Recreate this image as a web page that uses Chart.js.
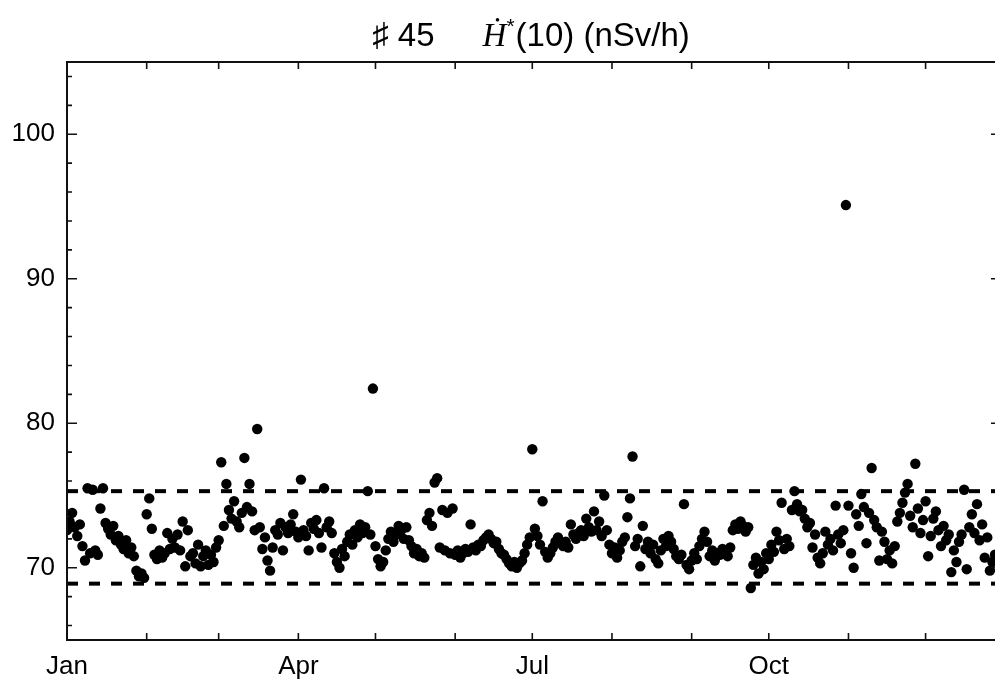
<!DOCTYPE html>
<html>
<head>
<meta charset="utf-8">
<script src="https://cdn.jsdelivr.net/npm/chart.js@4.4.1/dist/chart.umd.min.js"></script>
<style>
html, body { margin: 0; padding: 0; overflow: hidden; background: #fff; }
canvas { display: block; }
</style>
</head>
<body>
<canvas id="doseChart" width="995" height="682"></canvas>
<script>
// daily values, index = day of year (0 = 1 Jan)
const doseRate = [
  72.6, 73.2, 73.8, 72.8, 72.2, 73.0, 71.5, 70.5, 75.5, 71.0,
  75.4, 71.2, 70.9, 74.1, 75.5, 73.1, 72.7, 72.3, 72.9, 71.9,
  72.2, 71.6, 71.3, 71.9, 71.0, 71.4, 70.8, 69.8, 69.4, 69.6,
  69.3, 73.7, 74.8, 72.7, 70.9, 70.6, 71.2, 70.7, 71.0, 72.4,
  71.3, 72.0, 71.4, 72.3, 71.2, 73.2, 70.1, 72.6, 70.8, 71.0,
  70.3, 71.6, 70.1, 70.8, 71.2, 70.2, 70.9, 70.4, 71.4, 71.9,
  77.3, 72.9, 75.8, 74.0, 73.4, 74.6, 73.2, 72.8, 73.8, 77.6,
  74.2, 75.8, 73.9, 72.6, 79.6, 72.8, 71.3, 72.1, 70.5, 69.8,
  71.4, 72.6, 72.3, 73.1, 71.2, 72.8, 72.4, 73.0, 73.7, 72.5,
  72.1, 76.1, 72.6, 72.2, 71.2, 73.1, 72.7, 73.3, 72.4, 71.4,
  75.5, 72.8, 73.2, 72.4, 71.0, 70.4, 70.0, 71.3, 70.8, 71.8,
  72.3, 71.6, 72.6, 72.1, 73.0, 72.4, 72.8, 75.3, 72.3, 82.4,
  71.5, 70.6, 70.1, 70.4, 71.2, 72.0, 72.5, 71.8, 72.3, 72.9,
  72.6, 72.0, 72.8, 71.9, 71.5, 71.0, 71.3, 70.8, 71.0, 70.7,
  73.3, 73.8, 72.9, 75.9, 76.2, 71.4, 74.0, 71.2, 73.8, 71.0,
  74.1, 70.9, 71.2, 70.7, 71.0, 71.3, 71.1, 73.0, 71.4, 71.2,
  71.6, 71.5, 71.9, 72.1, 72.3, 72.0, 71.7, 71.8, 71.3, 71.0,
  70.9, 70.6, 70.3, 70.1, 70.4, 70.0, 70.3, 70.5, 71.0, 71.6,
  72.1, 78.2, 72.7, 72.2, 71.6, 74.6, 71.1, 70.7, 71.0, 71.4,
  71.8, 72.1, 71.7, 71.5, 71.8, 71.4, 73.0, 72.3, 72.0, 72.4,
  72.6, 72.2, 73.4, 72.8, 72.5, 73.9, 72.6, 73.2, 72.2, 75.0,
  72.6, 71.6, 71.0, 71.4, 70.7, 71.2, 71.8, 72.1, 73.5, 74.8,
  77.7, 71.5, 72.0, 70.1, 72.9, 71.3, 71.8, 71.0, 71.6, 70.6,
  70.3, 71.2, 72.0, 71.5, 72.2, 71.8, 71.3, 70.8, 70.6, 70.9,
  74.4, 70.2, 69.9, 70.5, 71.0, 70.6, 71.5, 72.0, 72.5, 71.8,
  70.8, 71.2, 70.5, 71.0, 70.9, 71.3, 71.0, 70.8, 71.4, 72.6,
  73.0, 72.7, 73.2, 72.9, 72.5, 72.8, 68.6, 70.2, 70.7, 69.6,
  70.4, 69.9, 71.0, 70.6, 71.6, 71.1, 72.5, 71.9, 74.5, 71.3,
  72.0, 71.5, 74.0, 75.3, 74.4, 73.9, 74.0, 73.4, 72.8, 73.1,
  71.4, 72.3, 70.7, 70.3, 71.0, 72.5, 71.6, 72.0, 71.2, 74.3,
  72.3, 71.7, 72.6, 95.1, 74.3, 71.0, 70.0, 73.7, 72.9, 75.1,
  74.2, 71.7, 73.8, 76.9, 73.3, 72.8, 70.5, 72.5, 71.8, 70.6,
  71.2, 70.3, 71.5, 73.2, 73.8, 74.5, 75.2, 75.8, 73.6, 72.8,
  77.2, 74.1, 72.4, 73.3, 74.6, 70.8, 72.2, 73.4, 73.9, 72.6,
  71.5, 72.9, 71.9, 72.3, 69.7, 71.2, 70.4, 71.8, 72.3, 75.4,
  69.9, 72.8, 73.7, 72.4, 74.4, 71.9, 73.0, 70.7, 72.1, 69.8,
  70.4, 70.9
];

const bandLimits = [75.3, 68.9];
const monthStarts = [0, 31, 59, 90, 120, 151, 181, 212, 243, 273, 304, 334];
const monthLabels = ['Jan', '', '', 'Apr', '', '', 'Jul', '', '', 'Oct', '', ''];
const yMajor = [70, 80, 90, 100];
const yMinor = [66, 68, 72, 74, 76, 78, 82, 84, 86, 88, 92, 94, 96, 98, 102, 104];
const xRange = [0, 361];
const yRange = [65, 105];

const points = doseRate.map((v, i) => ({ x: i, y: v }));

// frame with inward ticks (Mathematica style); the right edge of the frame
// falls just outside the picture, so only stubs of its major ticks show
const frameTicks = {
  id: 'frameTicks',
  afterDatasetsDraw(chart) {
    const { ctx, chartArea: a, scales } = chart;
    ctx.save();
    ctx.strokeStyle = '#111';
    ctx.lineWidth = 2;
    ctx.beginPath();
    ctx.moveTo(a.right + 2, a.top); ctx.lineTo(a.left, a.top);
    ctx.lineTo(a.left, a.bottom); ctx.lineTo(a.right + 2, a.bottom);
    ctx.stroke();
    ctx.lineWidth = 1.6;
    ctx.beginPath();
    monthStarts.forEach(d => {
      const px = scales.x.getPixelForValue(d);
      ctx.moveTo(px, a.bottom); ctx.lineTo(px, a.bottom - 7);
      ctx.moveTo(px, a.top); ctx.lineTo(px, a.top + 7);
    });
    yMajor.forEach(v => {
      const py = scales.y.getPixelForValue(v);
      ctx.moveTo(a.left, py); ctx.lineTo(a.left + 10, py);
      ctx.moveTo(a.right, py); ctx.lineTo(a.right - 4, py);
    });
    yMinor.forEach(v => {
      const py = scales.y.getPixelForValue(v);
      ctx.moveTo(a.left, py); ctx.lineTo(a.left + 5, py);
    });
    ctx.stroke();
    ctx.restore();
  }
};

// title with dotted italic H and superscript star
const mmaTitle = {
  id: 'mmaTitle',
  afterDraw(chart) {
    const ctx = chart.ctx;
    const parts = [
      { t: '\u266F 45', f: '33px "Liberation Sans", "DejaVu Sans", sans-serif', dy: 0, gap: 48 },
      { t: '\u1E22', f: 'italic 33px "Liberation Serif", "DejaVu Serif", serif', dy: 0, gap: 0 },
      { t: '*', f: '21px "Liberation Sans", sans-serif', dy: -13, gap: 1 },
      { t: '(10) (nSv/h)', f: '33px "Liberation Sans", sans-serif', dy: 0, gap: 0 }
    ];
    ctx.save();
    ctx.fillStyle = '#000';
    ctx.textBaseline = 'alphabetic';
    let total = 0;
    parts.forEach(p => { ctx.font = p.f; p.w = ctx.measureText(p.t).width + p.gap; total += p.w; });
    let x = 531 - total / 2;
    parts.forEach(p => {
      ctx.font = p.f;
      ctx.fillText(p.t, x, 46 + p.dy);
      x += p.w;
    });
    ctx.restore();
  }
};

Chart.defaults.font.family = '"Liberation Sans", Arial, sans-serif';
Chart.defaults.font.size = 26;
Chart.defaults.color = '#000';

new Chart(document.getElementById('doseChart'), {
  type: 'scatter',
  data: {
    datasets: [{
      label: 'H*(10)',
      data: points,
      backgroundColor: '#000',
      pointRadius: 5.2,
      pointBorderWidth: 0,
      pointHoverRadius: 5.2
    }, {
      type: 'line',
      label: 'upper',
      data: xRange.map(d => ({ x: d, y: bandLimits[0] })),
      borderColor: '#000',
      borderWidth: 4,
      borderDash: [11, 11],
      pointRadius: 0,
      fill: false
    }, {
      type: 'line',
      label: 'lower',
      data: xRange.map(d => ({ x: d, y: bandLimits[1] })),
      borderColor: '#000',
      borderWidth: 4,
      borderDash: [11, 11],
      pointRadius: 0,
      fill: false
    }]
  },
  options: {
    responsive: false,
    animation: false,
    layout: { autoPadding: false, padding: { top: 62, right: 0, left: 0, bottom: 0 } },
    plugins: {
      legend: { display: false },
      tooltip: { enabled: false },
      title: { display: false }
    },
    scales: {
      x: {
        type: 'linear',
        min: xRange[0],
        max: xRange[1],
        grid: { display: false, drawTicks: false },
        border: { display: false },
        afterBuildTicks: s => { s.ticks = monthStarts.map(v => ({ value: v })); },
        afterFit: s => { s.height = 42; s.paddingLeft = 0; s.paddingRight = 0; },
        ticks: {
          autoSkip: false,
          maxRotation: 0,
          padding: 11,
          callback: (v, i) => monthLabels[i]
        }
      },
      y: {
        min: yRange[0],
        max: yRange[1],
        grid: { display: false, drawTicks: false },
        border: { display: false },
        afterBuildTicks: s => { s.ticks = yMajor.map(v => ({ value: v })); },
        afterFit: s => { s.width = 67; },
        ticks: { padding: 12 }
      }
    }
  },
  plugins: [frameTicks, mmaTitle]
});
</script>
</body>
</html>
